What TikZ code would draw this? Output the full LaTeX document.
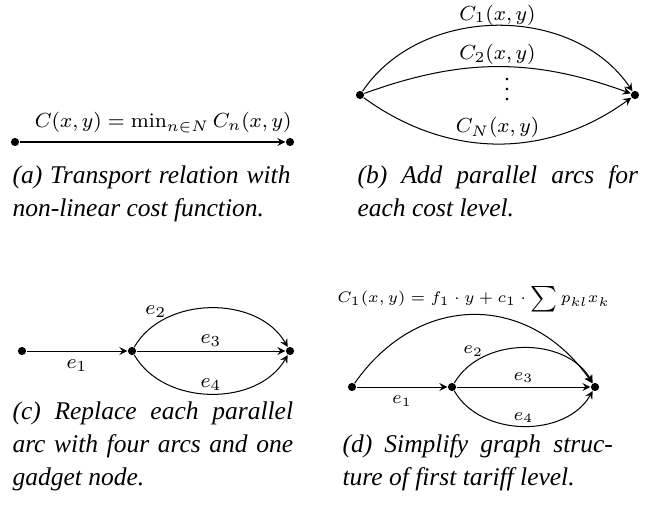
\documentclass[tikz,border=0pt]{standalone}
\usepackage[no-math]{fontspec}
\setmainfont{Liberation Serif}[ItalicFont={Liberation Serif Italic}]
\newfontfamily\capfont{Liberation Serif Italic}

\begin{document}
\begin{tikzpicture}[x=0.392pt,y=-0.392pt,
    dot/.style={circle,fill,inner sep=0pt,minimum size=3.2pt},
    flow/.style={-stealth,line width=0.4pt},
    lbl/.style={font=\fontsize{8.5}{10}\selectfont},
    lbls/.style={font=\fontsize{7.3}{9}\selectfont},
    subcap/.style={anchor=base west,inner sep=0pt,align=justify,
      font=\capfont\fontsize{10}{13}\selectfont}]
    \useasboundingbox (0,0) rectangle (645,506);
    % (a) single relation
    \node[dot] (a1) at (15,142) {};
    \node[dot] (a2) at (290,142) {};
    \draw[flow] (a1) -- node[pos=0.54,above,lbl] {$C(x,y) = \min_{n\in N} C_n(x,y)$} (a2);
    \node[subcap,text width=109pt] (capa) at (12,183)
      {(a) Transport relation with\linebreak non-linear cost function.};
    % (b) parallel arcs
    \node[dot] (b1) at (360,95) {};
    \node[dot] (b2) at (635,95) {};
    \draw[flow] (b1) to[bend left=56] node[above,lbl,inner sep=0pt] {$C_1(x,y)$} (b2);
    \draw[flow] (b1) to[bend left=20] node[above,lbl,inner sep=0.5pt] {$C_2(x,y)$} (b2);
    \draw[flow] (b1) to[bend right=36] node[above,lbl,inner sep=2pt] {$C_N(x,y)$} (b2);
    \node[lbl,inner sep=0pt,text height=9.1pt,text depth=0pt] (bdots) at (507,89) {$\vdots$};
    \node[subcap,text width=110pt] (capb) at (357,183)
      {(b) Add parallel arcs for\linebreak each cost level.};
    % (c) gadget node
    \node[dot] (c1) at (22,351) {};
    \node[dot] (c2) at (132,351) {};
    \node[dot] (c3) at (290,351) {};
    \draw[flow] (c1) -- node[below,lbl] {$e_1$} (c2);
    \draw[flow] (c2) to[bend left=60] node[pos=0.25,above left,lbl,inner sep=0pt] {$e_2$} (c3);
    \draw[flow] (c2) -- node[above,lbl,inner sep=1.5pt] {$e_3$} (c3);
    \draw[flow] (c2) to[bend right=60] node[above,lbl,inner sep=1pt] {$e_4$} (c3);
    \node[subcap,text width=110pt] (capc) at (12,419)
      {(c) Replace each parallel\linebreak arc with four arcs and one\linebreak gadget node.};
    % (d) first tariff level
    \node[dot] (d1) at (352,387) {};
    \node[dot] (d2) at (452,387) {};
    \node[dot] (d3) at (595,387) {};
    \draw[flow] (d1) to[bend left=55,looseness=1.2]
      node[above,inner sep=1pt,font=\fontsize{6.4}{8}\selectfont] {$C_1(x,y) = f_1 \cdot y + c_1 \cdot \sum p_{kl} x_k$} (d3);
    \draw[flow] (d1) -- node[below,lbls] {$e_1$} (d2);
    \draw[flow] (d2) to[bend left=60] node[pos=0.25,above left,lbls,inner sep=0pt] {$e_2$} (d3);
    \draw[flow] (d2) -- node[above,lbls,inner sep=1.5pt] {$e_3$} (d3);
    \draw[flow] (d2) to[bend right=60] node[above,lbls,inner sep=1pt] {$e_4$} (d3);
    \node[subcap,text width=106pt] (capd) at (342,452)
      {(d) Simplify graph struc-\linebreak ture of first tariff level.};
\end{tikzpicture}
\end{document}
